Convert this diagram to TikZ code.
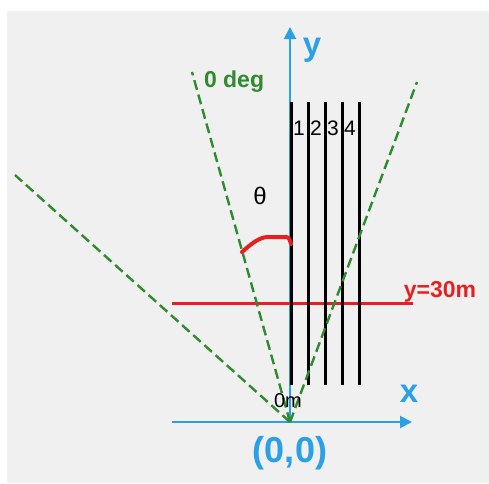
\documentclass[tikz,border=0pt]{standalone}
\usepackage{fontspec}
\setmainfont{Liberation Sans}
\usetikzlibrary{arrows.meta}
\definecolor{bgc}{HTML}{F0F0F0}
\definecolor{axblue}{HTML}{2AA0E6}
\definecolor{dgreen}{HTML}{2E8B2E}
\definecolor{lred}{HTML}{E62020}
\tikzset{
  axis/.style={draw=axblue, line width=2pt, -{Triangle[length=12pt,width=12pt]}},
  scanline/.style={draw=black, line width=3pt},
  rayline/.style={draw=dgreen, line width=2.4pt, dash pattern=on 10pt off 5pt},
  redline/.style={draw=lred, line width=3pt},
  redarc/.style={draw=lred, line width=4pt, line cap=round},
  lbl/.style={inner sep=0pt, outer sep=0pt},
}
\newcommand{\fsz}[1]{\fontsize{#1}{#1}\selectfont}
\begin{document}
\begin{tikzpicture}[x=1pt,y=-1pt]
\useasboundingbox (0,0) rectangle (489,483);
\fill[white] (0,0) rectangle (489,483);
\fill[bgc] (7,11) rectangle (489,483);
% coordinates
\coordinate (O) at (290,422);
\coordinate (xs) at (172,422);
\coordinate (xe) at (412,422);
\coordinate (ye) at (290,27);
\coordinate (g1) at (192,72);
\coordinate (g2) at (15,175);
\coordinate (g3) at (417,82);
\coordinate (rs) at (172,303);
\coordinate (re) at (413,303);
% axes
\draw[axis] (xs) -- (xe);
\draw[axis] (O) -- (ye);
% red line
\draw[redline] (rs) -- (re);
% black scan lines
\foreach \i/\x in {1/291,2/308,3/325,4/342,5/359}{
  \coordinate (t\i) at (\x,102);
  \coordinate (b\i) at (\x,385);
  \draw[scanline] (t\i) -- (b\i);
}
% green rays
\draw[rayline] (O) -- (g1);
\draw[rayline] (O) -- (g2);
\draw[rayline] (O) -- (g3);
% red arc
\coordinate (a1) at (242,252);
\coordinate (a2) at (268,237);
\coordinate (a3) at (283,237);
\coordinate (a4) at (291,244);
\draw[redarc] (a1) .. controls (252,243) and (260,237) .. (a2) -- (a3) .. controls (289,237) .. (a4);
% labels
\node[lbl, text=axblue, font=\bfseries\fsz{33}] (ylab) at (312,50) {y};
\node[lbl, text=axblue, font=\bfseries\fsz{33}] (xlab) at (409,394) {x};
\node[lbl, text=axblue, font=\bfseries\fsz{36}] (orig) at (290,453) {(0,0)};
\node[lbl, text=black, font=\fsz{20}] (zm) at (288,401) {0m};
\node[lbl, text=black, font=\fsz{21}] (n1) at (299,128) {1};
\node[lbl, text=black, font=\fsz{21}] (n2) at (316,128) {2};
\node[lbl, text=black, font=\fsz{21}] (n3) at (333,128) {3};
\node[lbl, text=black, font=\fsz{21}] (n4) at (350,128) {4};
\node[lbl, anchor=west, text=dgreen, font=\bfseries\fsz{23}] (deg) at (204,82) {0 deg};
\node[lbl, text=black, font=\fsz{24}] (th) at (260,196) {θ};
\node[lbl, text=lred, font=\bfseries\fsz{23}] (y30) at (440,292) {y=30m};
\end{tikzpicture}
\end{document}
